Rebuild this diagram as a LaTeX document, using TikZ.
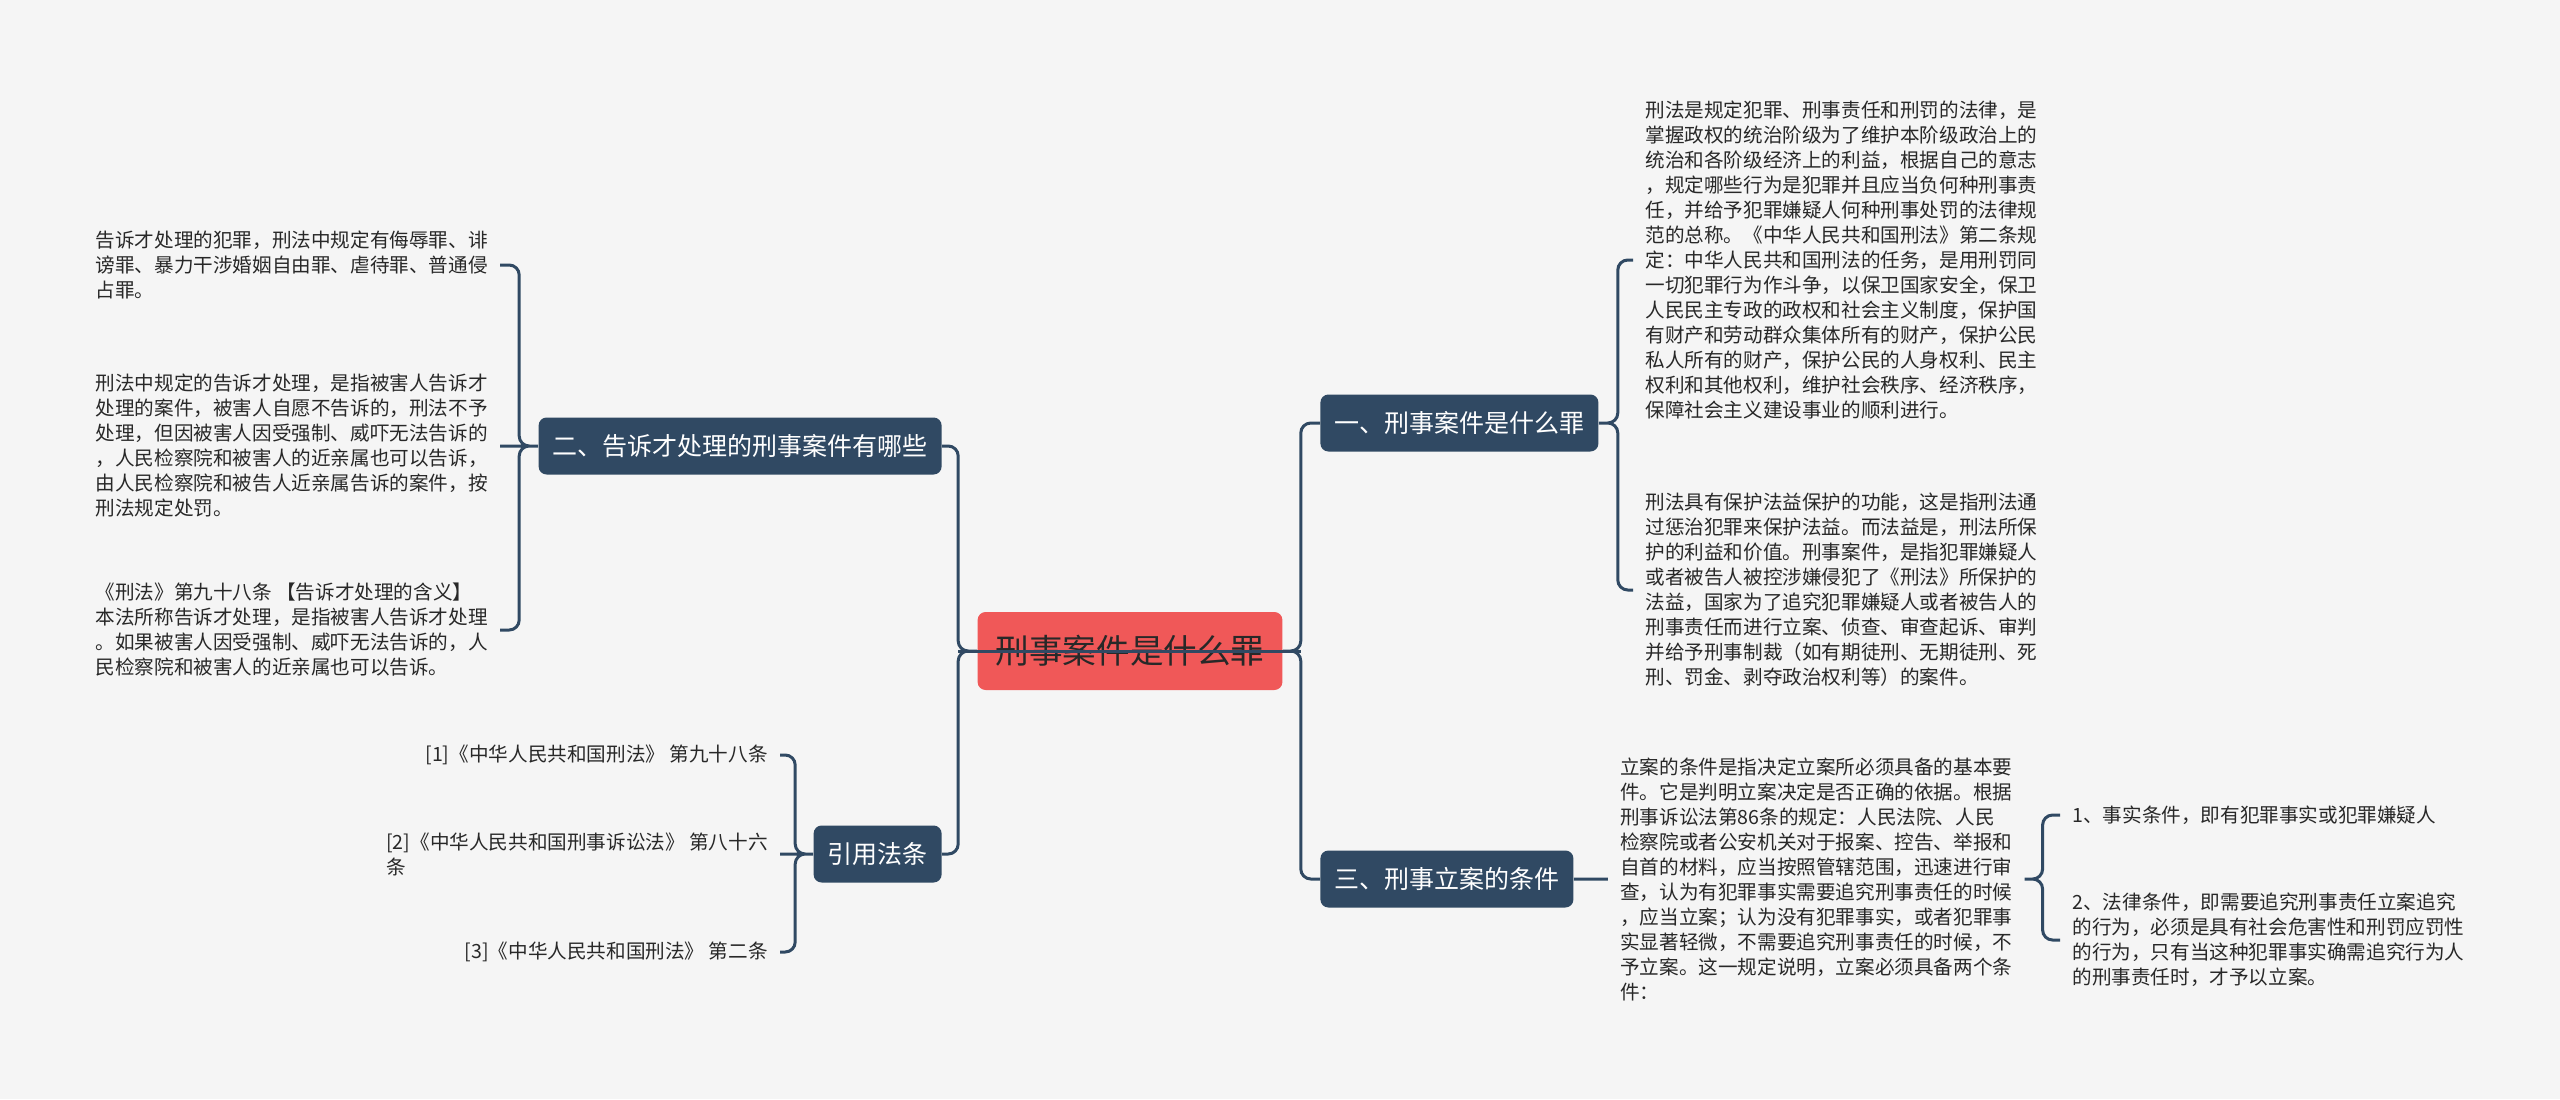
\documentclass[tikz,border=0pt]{standalone}
\usepackage{fontspec}
\setmainfont{Noto Sans CJK SC}
\usepackage{tikz}
\usetikzlibrary{ calc, positioning }
\definecolor{bgcol}{RGB}{245,245,245}
\definecolor{navy}{RGB}{48,73,99}
\definecolor{rootred}{RGB}{240,88,88}
\definecolor{inkcol}{RGB}{40,40,40}
\tikzset{
rootbox/.style={fill=rootred, text=inkcol, rounded corners=4pt, inner xsep=9pt, minimum height=39pt, font=\fontsize{16.8pt}{20pt}\selectfont}, % central topic
branch/.style={fill=navy, text=white, rounded corners=4pt, inner xsep=7pt, minimum height=28.5pt, font=\fontsize{12.5pt}{15pt}\selectfont}, % main topics
leaf/.style={text=inkcol, align=left, inner xsep=6pt, inner ysep=2pt, font=\fontsize{9.8pt}{12.5pt}\selectfont}, % plain text
link/.style={draw=navy, line width=1.5pt, rounded corners=5pt},
}

\begin{document}
\begin{tikzpicture}[x=0.5pt, y=-0.5pt]%one unit is one pixel of the reference
  \fill[bgcol] (0,0) rectangle (2560,1099);
  \useasboundingbox (0,0) rectangle (2560,1099);

  \node[rootbox] (root) at (1130,651) {刑事案件是什么罪};
  \node[branch, anchor=west] (b1) at (1320,423) {一、刑事案件是什么罪};
  \node[branch, anchor=west] (b3) at (1320,879) {三、刑事立案的条件};
  \node[branch, anchor=east] (b2) at (942,446) {二、告诉才处理的刑事案件有哪些};
  \node[branch, anchor=east] (b4) at (942,854) {引用法条};

  % right side
  \node[leaf, anchor=west] (t1) at (1633,260) {刑法是规定犯罪、刑事责任和刑罚的法律，是\\掌握政权的统治阶级为了维护本阶级政治上的\\统治和各阶级经济上的利益，根据自己的意志\\，规定哪些行为是犯罪并且应当负何种刑事责\\任，并给予犯罪嫌疑人何种刑事处罚的法律规\\范的总称。《中华人民共和国刑法》第二条规\\定：中华人民共和国刑法的任务，是用刑罚同\\一切犯罪行为作斗争，以保卫国家安全，保卫\\人民民主专政的政权和社会主义制度，保护国\\有财产和劳动群众集体所有的财产，保护公民\\私人所有的财产，保护公民的人身权利、民主\\权利和其他权利，维护社会秩序、经济秩序，\\保障社会主义建设事业的顺利进行。};
  \node[leaf, anchor=west] (t2) at (1633,590) {刑法具有保护法益保护的功能，这是指刑法通\\过惩治犯罪来保护法益。而法益是，刑法所保\\护的利益和价值。刑事案件，是指犯罪嫌疑人\\或者被告人被控涉嫌侵犯了《刑法》所保护的\\法益，国家为了追究犯罪嫌疑人或者被告人的\\刑事责任而进行立案、侦查、审查起诉、审判\\并给予刑事制裁（如有期徒刑、无期徒刑、死\\刑、罚金、剥夺政治权利等）的案件。};
  \node[leaf, right=17pt of b3] (t3) {立案的条件是指决定立案所必须具备的基本要\\件。它是判明立案决定是否正确的依据。根据\\刑事诉讼法第86条的规定：人民法院、人民\\检察院或者公安机关对于报案、控告、举报和\\自首的材料，应当按照管辖范围，迅速进行审\\查，认为有犯罪事实需要追究刑事责任的时候\\，应当立案；认为没有犯罪事实，或者犯罪事\\实显著轻微，不需要追究刑事责任的时候，不\\予立案。这一规定说明，立案必须具备两个条\\件：};
  \node[leaf, anchor=west] (g1) at (2060,815) {1、事实条件，即有犯罪事实或犯罪嫌疑人};
  \node[leaf, anchor=west] (g2) at (2060,940) {2、法律条件，即需要追究刑事责任立案追究\\的行为，必须是具有社会危害性和刑罚应罚性\\的行为，只有当这种犯罪事实确需追究行为人\\的刑事责任时，才予以立案。};

  % left side
  \node[leaf, anchor=east] (ta) at (500,265) {告诉才处理的犯罪，刑法中规定有侮辱罪、诽\\谤罪、暴力干涉婚姻自由罪、虐待罪、普通侵\\占罪。};
  \node[leaf, anchor=east] (tb) at (500,446) {刑法中规定的告诉才处理，是指被害人告诉才\\处理的案件，被害人自愿不告诉的，刑法不予\\处理，但因被害人因受强制、威吓无法告诉的\\，人民检察院和被害人的近亲属也可以告诉，\\由人民检察院和被告人近亲属告诉的案件，按\\刑法规定处罚。};
  \node[leaf, anchor=east] (tc) at (500,630) {《刑法》第九十八条 【告诉才处理的含义】\\本法所称告诉才处理，是指被害人告诉才处理\\。如果被害人因受强制、威吓无法告诉的，人\\民检察院和被害人的近亲属也可以告诉。};
  \node[leaf, anchor=east] (r1) at (780,755) {[1]《中华人民共和国刑法》 第九十八条};
  \node[leaf, anchor=east] (r2) at (780,854) {[2]《中华人民共和国刑事诉讼法》 第八十六\\条};
  \node[leaf, anchor=east] (r3) at (780,952) {[3]《中华人民共和国刑法》 第二条};

  \path[link]
  (root.east) -- ++(18,0) |- (b1.west)
  (root.east) -- ++(18,0) |- (b3.west)
  (root.west) -- ++(-19,0) |- (b2.east)
  (root.west) -- ++(-19,0) |- (b4.east)
  (b1.east) -- ++(19,0) |- (t1.west)
  (b1.east) -- ++(19,0) |- (t2.west)
  (b3.east) -- (t3.west)
  (t3.east) -- ++(18,0) |- (g1.west)
  (t3.east) -- ++(18,0) |- (g2.west)
  (b2.west) -- ++(-19,0) |- (ta.east)
  (b2.west) -- ++(-19,0) |- (tc.east)
  (b2.west) -- (tb.east)
  (b4.west) -- ++(-18,0) |- (r1.east)
  (b4.west) -- ++(-18,0) |- (r3.east)
  (b4.west) -- (r2.east);
  \draw[link] ($(root.west)+(-19,0)$) -- ($(root.east)+(18,0)$); % runs across the central topic
\end{tikzpicture}
\end{document}
